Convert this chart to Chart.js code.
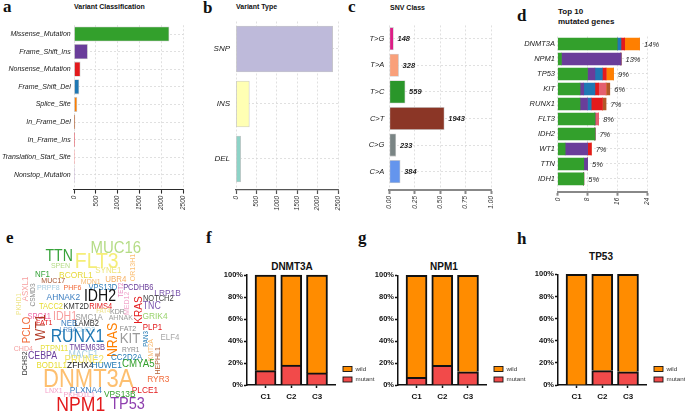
<!DOCTYPE html>
<html>
<head>
<meta charset="utf-8">
<script src="https://cdn.jsdelivr.net/npm/chart.js@4.4.1/dist/chart.umd.min.js"></script>
<style>
  html, body { margin: 0; padding: 0; background: #fff; }
  body { width: 685px; height: 413px; overflow: hidden; position: relative; font-family: "Liberation Sans", Arial, sans-serif; }
  canvas { position: absolute; }
  .lt { position: absolute; font: bold 17px "Liberation Serif", "Times New Roman", serif; line-height: 17px; color: #111; }
  .tt { position: absolute; font-weight: bold; color: #111; white-space: nowrap; }
</style>
</head>
<body>
<div class="lt" style="left:3px;top:-2px">a</div>
<div class="lt" style="left:203px;top:-1px">b</div>
<div class="lt" style="left:348px;top:-2px">c</div>
<div class="lt" style="left:517px;top:7px">d</div>
<div class="lt" style="left:6px;top:229px">e</div>
<div class="lt" style="left:206px;top:229px">f</div>
<div class="lt" style="left:358px;top:229px">g</div>
<div class="lt" style="left:517px;top:230px">h</div>

<div class="tt" style="left:74px;top:3px;font-size:7px;line-height:7px">Variant Classification</div>
<div class="tt" style="left:236px;top:3px;font-size:7px;line-height:7px">Variant Type</div>
<div class="tt" style="left:390px;top:4px;font-size:7px;line-height:7px">SNV Class</div>
<div class="tt" style="left:558px;top:7px;font-size:8px;line-height:10px">Top 10<br>mutated genes</div>
<div class="tt" style="left:242px;top:262px;width:100px;text-align:center;font-size:10px;line-height:10px">DNMT3A</div>
<div class="tt" style="left:394px;top:262px;width:100px;text-align:center;font-size:10px;line-height:10px">NPM1</div>
<div class="tt" style="left:551px;top:252px;width:100px;text-align:center;font-size:10px;line-height:10px">TP53</div>

<canvas id="cA" width="200" height="215" style="left:0;top:0"></canvas>
<canvas id="cB" width="150" height="215" style="left:200px;top:0"></canvas>
<canvas id="cC" width="190" height="215" style="left:345px;top:0"></canvas>
<canvas id="cD" width="180" height="215" style="left:505px;top:0"></canvas>
<canvas id="cE" width="195" height="188" style="left:0;top:225px"></canvas>
<canvas id="cF" width="182" height="160" style="left:196.7px;top:250px"></canvas>
<canvas id="cG" width="182" height="160" style="left:347.7px;top:250px"></canvas>
<canvas id="cH" width="180" height="160" style="left:507.7px;top:250px"></canvas>

<script>
// a: variant classification
const vcLabels = ['Missense_Mutation', 'Frame_Shift_Ins', 'Nonsense_Mutation', 'Frame_Shift_Del', 'Splice_Site',
  'In_Frame_Del', 'In_Frame_Ins', 'Translation_Start_Site', 'Nonstop_Mutation'];
const vcCounts = [2180, 311, 143, 114, 68, 22, 18, 5, 2];

// b: variant type
const vtLabels = ['SNP', 'INS', 'DEL'];
const vtCounts = [2370, 326, 115];

// c: SNV class
const snvLabels = ['T>G', 'T>A', 'T>C', 'C>T', 'C>G', 'C>A'];
const snvCounts = [148, 328, 559, 1943, 233, 384];

// d: top 10 mutated genes (counts per variant class)
const topGenes = ['DNMT3A', 'NPM1', 'TP53', 'KIT', 'RUNX1', 'FLT3', 'IDH2', 'WT1', 'TTN', 'IDH1'];
const topPct = ['14%', '13%', '9%', '6%', '7%', '8%', '7%', '7%', '5%', '5%'];
const geneMissense = [16, 1, 8, 6, 6, 10, 10, 2, 7, 7];
const geneFrameShiftIns = [0, 16, 2, 1, 2, 0, 0, 6, 1, 0];
const geneFrameShiftDel = [1, 0, 2, 3, 1, 0, 0, 0, 0, 0];
const geneNonsense = [1, 0, 1, 1, 3, 0, 0, 1, 0, 0];
const geneInFrameIns = [0, 0, 0, 2, 0, 1, 0, 0, 0, 0];
const geneSplice = [4, 0, 2, 0, 0, 0, 0, 0, 0, 0];
const geneInFrameDel = [0, 0, 0, 1, 1, 0, 0, 0, 0, 0];

// e: word cloud (word, weight)
const cloudWords = ['MUC16', 'TTN', 'FLT3', 'SPEN', 'SYNE1', 'OR13H1', 'NF1', 'BCORL1', 'UBR4', 'ASXL1',
  'MUC17', 'MDN1', 'CSMD3', 'PRPF8', 'PHF6', 'VPS13D', 'TET2', 'PCDHB6', 'LRP1B', 'AHNAK2',
  'IDH2', 'MED12', 'NOTCH2', 'PKHD1', 'TACC2', 'KMT2D', 'RIMS4', 'KRAS', 'TNC', 'FAT4',
  'KDR', 'SPG11', 'IDH1', 'SMC1A', 'AHNAK', 'GRIK4', 'FAT1', 'NEB', 'LAMB2', 'FAT2',
  'PLP1', 'LRBA', 'CHD3', 'PCLO', 'WT1', 'RUNX1', 'NRAS', 'KIT', 'PAN3', 'ELF4',
  'KMT2A', 'HEPHL1', 'CHD4', 'PTPN11', 'TMEM63B', 'RYR1', 'DCHS2', 'CEBPA', 'MACF1', 'CC2D2A',
  'PRUNE2', 'CMYA5', 'BOD1L1', 'ZFHX4', 'HUWE1', 'DNMT3A', 'RYR3', 'LNX1', 'PLXNA4', 'PLCE1',
  'PKHD1L1', 'VPS13B', 'NPM1', 'TP53'];
const cloudFreq = [17, 16, 22, 8, 9, 8, 9, 9.5, 9, 9,
  8, 8, 7.5, 8, 8, 8.5, 7, 8.5, 9.5, 9.5,
  16, 8, 8.5, 7.5, 8.5, 8.5, 8.5, 11.5, 10, 7,
  8, 8.5, 12, 9, 8, 9.5, 8, 9, 8.5, 8,
  9, 7.5, 8, 11, 14, 18, 14, 15, 7, 9,
  7.5, 8, 8, 8.5, 8.5, 7.5, 8, 10, 10, 9,
  11, 11, 9, 9.5, 9.5, 25, 9.5, 8, 9.5, 9.5,
  8, 9.5, 20, 16.5];

// f-h: proportion of mutant per cluster
const clusters = ['C1', 'C2', 'C3'];
const dnmt3aMutant = [13, 18, 11];
const npm1Mutant = [7, 18, 12];
const tp53Mutant = [0, 13, 12];

// ---- styles / layout ----
const vcColors = ['#33a02c', '#6a3d9a', '#e31a1c', '#1f78b4', '#ff7f00', '#b15928', '#e8606a', '#fb9a99', '#cab2d6'];
const vtColors = ['#bebada', '#ffffb3', '#8dd3c7'];
const snvColors = ['#dd1e86', '#f9a07a', '#2a962a', '#8b3626', '#7a8585', '#6495ed'];
const cloudColors = ['#b5dc86', '#37a33a', '#f5ee78', '#b5dc86', '#eee67c', '#fbbf73', '#37a33a', '#e6d93a', '#f6b062', '#f7a0a0',
  '#a4532e', '#f8bb72', '#8a8a8a', '#a6cee3', '#f26b3a', '#2b7bba', '#e98ac0', '#6a3d9a', '#7b55ac', '#3a7dc0',
  '#111111', '#f2a8cc', '#444444', '#efe690', '#e6dc30', '#333333', '#e31a1c', '#e31a1c', '#7b55ac', '#eee38a',
  '#8a8a8a', '#ee6aa7', '#f79c9c', '#9a9a9a', '#a0a0a0', '#9ad36e', '#e31a1c', '#3a7dc0', '#333333', '#8a8a8a',
  '#e31a1c', '#5b8fc9', '#a6cee3', '#f26b3a', '#b23a26', '#1f78b4', '#ff7f00', '#9a9a9a', '#1f78b4', '#a8a8a8',
  '#f8bb72', '#b5653a', '#f4a0a0', '#e6df3e', '#6a3d9a', '#8a8a8a', '#333333', '#6a3d9a', '#a6cee3', '#1f78b4',
  '#f2e462', '#33a02c', '#e6dc30', '#111111', '#1f78b4', '#fdbf6f', '#f26b3a', '#f4a0c8', '#3a7dc0', '#e31a1c',
  '#f4a0c8', '#33a02c', '#e31a1c', '#8e3fae'];
// [x, y, rotation] of each word in the cloud canvas
const cloudLayout = [[115.8, 246.7, 0], [59.2, 255.3, 0], [96.7, 260, 0], [60.5, 265.3, 0], [108.3, 270, 0], [131.7, 267.5, -90], [42.5, 273.3, 0], [75.8, 274.2, 0], [115.8, 278.3, 0], [25, 289, -90],
  [53.3, 280.5, 0], [90.8, 281.2, 0], [32.5, 295, -90], [48.3, 287, 0], [72.5, 287, 0], [102.8, 287.3, 0], [120.8, 290, -90], [138.3, 287.2, 0], [167.5, 292.8, 0], [63.3, 296.7, 0],
  [100, 295.5, 0], [126.3, 303.3, -90], [158.3, 298, 0], [17.8, 304, -90], [51, 306.2, 0], [76.3, 305.8, 0], [100.8, 305.8, 0], [137.5, 310, -90], [151.7, 305, 0], [103.3, 310.8, 0],
  [117.5, 311.2, 0], [39.2, 315.5, 0], [65, 315.5, 0], [89.2, 316.7, 0], [120.8, 317.5, 0], [155, 315.7, 0], [44.2, 322.5, 0], [69.2, 322.5, 0], [86.7, 322.5, 0], [128, 328.3, 0],
  [152.5, 327, 0], [68.3, 329.2, 0], [85.5, 329.2, 0], [26, 330, -90], [40, 327.5, -90], [77.5, 336, 0], [112, 340, -90], [130, 337.2, 0], [145, 339, -90], [170, 336.7, 0],
  [150, 350, -90], [156.7, 360.8, -90], [23.3, 347.8, 0], [54.2, 347.8, 0], [87.2, 347, 0], [130.8, 348.8, 0], [24, 363.3, -90], [42.5, 355.7, 0], [83.3, 354, 0], [126.7, 356.3, 0],
  [84.2, 359.5, 0], [138.3, 362.8, 0], [51.7, 365, 0], [80.3, 365, 0], [106.7, 365, 0], [88.3, 377.5, 0], [158.3, 378.3, 0], [53.8, 389.7, 0], [85.8, 389.3, 0], [145, 389.3, 0],
  [79.2, 394.5, 0], [119.7, 393.7, 0], [80.8, 404.2, 0], [127.5, 403, 0]];

Chart.defaults.font.family = '"Liberation Sans", Arial, sans-serif';
Chart.defaults.color = '#222';
Chart.defaults.animation = false;
Chart.defaults.plugins.legend.display = false;
Chart.defaults.plugins.tooltip.enabled = false;

// horizontal bar panel with a linear index axis so rows sit where we want
function hbar(id, cats, datasets, o) {
  return new Chart(document.getElementById(id), {
    type: 'bar',
    data: { datasets: datasets },
    options: {
      indexAxis: 'y',
      responsive: false,
      layout: { padding: { left: 0, top: o.top, right: o.w - o.right, bottom: 0 } },
      scales: {
        x: {
          type: 'linear', min: 0, max: o.xmax, stacked: !!o.stacked, offset: false,
          afterFit: s => { s.height = o.h - o.bottom; },
          ticks: {
            stepSize: o.step, minRotation: 90, maxRotation: 90, autoSkip: false, padding: 2,
            font: { size: 6.5, style: 'italic' }, color: '#333', callback: o.fmt
          },
          grid: { offset: false, color: '#d9d9d9', lineWidth: 0.8, tickColor: o.axisColor, tickLength: 4, tickWidth: o.axisWidth },
          border: { display: true, color: o.axisColor, width: o.axisWidth, dash: [2, 2] }
        },
        y: {
          type: 'linear', reverse: true, min: -0.5, max: o.ymax, stacked: !!o.stacked, offset: false,
          afterFit: s => { s.width = o.left; },
          afterBuildTicks: s => { s.ticks = cats.map((c, i) => ({ value: i })); },
          ticks: { padding: o.pad, font: { size: o.fs, style: 'italic' }, color: '#222', callback: v => cats[v] },
          grid: { offset: false, color: '#d9d9d9', lineWidth: 0.8, drawTicks: false },
          border: { display: false, dash: [2, 2] }
        }
      }
    },
    plugins: o.plugins || []
  });
}

// a
hbar('cA', vcLabels, [{
  data: vcCounts.map((v, i) => ({ x: v, y: i })),
  backgroundColor: vcColors, borderColor: '#cfcfcf', borderWidth: 0.8, borderSkipped: false, barThickness: 14.5
}], { w: 200, h: 215, left: 74, right: 183, top: 25.2, bottom: 189.6, ymax: 8.84, xmax: 2500, step: 500,
  fmt: v => String(v), axisColor: '#2a2a2a', axisWidth: 1.1, pad: 3.3, fs: 7 });

// b
hbar('cB', vtLabels, [{
  data: vtCounts.map((v, i) => ({ x: v, y: i })),
  backgroundColor: vtColors, borderColor: '#c8c8c8', borderWidth: 0.8, borderSkipped: false, barThickness: 46
}], { w: 150, h: 215, left: 36, right: 138, top: 21.5, bottom: 190, ymax: 2.564, xmax: 2500, step: 500,
  fmt: v => String(v), axisColor: '#555', axisWidth: 1.2, pad: 6, fs: 8 });

// c
const snvTotal = snvCounts.reduce((a, b) => a + b, 0);
const snvFrac = snvCounts.map(v => v / snvTotal);
const snvLabelPlugin = {
  id: 'snvLabels',
  afterDatasetsDraw(chart) {
    const { ctx, scales } = chart;
    ctx.save();
    ctx.font = 'italic bold 7.5px "Liberation Sans", Arial, sans-serif';
    ctx.fillStyle = '#222';
    ctx.textBaseline = 'middle';
    snvFrac.forEach((f, i) => {
      ctx.fillText(String(snvCounts[i]), scales.x.getPixelForValue(f) + 4, scales.y.getPixelForValue(i) + 0.5);
    });
    ctx.restore();
  }
};
hbar('cC', snvLabels, [{
  data: snvFrac.map((v, i) => ({ x: v, y: i })),
  backgroundColor: snvColors, borderColor: '#cfcfcf', borderWidth: 0.8, borderSkipped: false, barThickness: 22.5
}], { w: 190, h: 215, left: 44.3, right: 146, top: 25.4, bottom: 190, ymax: 5.69, xmax: 1, step: 0.25,
  fmt: v => v.toFixed(2), axisColor: '#888', axisWidth: 2, pad: 5, fs: 7.5, plugins: [snvLabelPlugin] });

// d
const geneClasses = [
  [geneMissense, '#33a02c'], [geneFrameShiftIns, '#6a3d9a'], [geneFrameShiftDel, '#1f78b4'],
  [geneNonsense, '#e31a1c'], [geneInFrameIns, '#e5606f'], [geneSplice, '#ff7f00'], [geneInFrameDel, '#b15928']
];
const geneTotals = topGenes.map((g, i) => geneClasses.reduce((s, c) => s + c[0][i], 0));
const pctPlugin = {
  id: 'pctLabels',
  afterDatasetsDraw(chart) {
    const { ctx, scales } = chart;
    ctx.save();
    ctx.font = 'italic 7.5px "Liberation Sans", Arial, sans-serif';
    ctx.fillStyle = '#222';
    ctx.textBaseline = 'middle';
    geneTotals.forEach((t, i) => {
      ctx.fillText(topPct[i], scales.x.getPixelForValue(t) + 4.5, scales.y.getPixelForValue(i) + 0.5);
    });
    ctx.restore();
  }
};
hbar('cD', topGenes, geneClasses.map(c => ({
  data: c[0].map((v, i) => ({ x: v, y: i })),
  backgroundColor: c[1], borderWidth: 0, barThickness: 12
})), { w: 180, h: 215, left: 52.7, right: 142, top: 36.5, bottom: 191.7, ymax: 9.85, xmax: 24, step: 8,
  fmt: v => String(v), axisColor: '#888', axisWidth: 2, pad: 2.7, fs: 7.5, stacked: true, plugins: [pctPlugin] });

// e: word cloud drawn on a scatter chart
const cloudPlugin = {
  id: 'cloudWords',
  afterDatasetsDraw(chart) {
    const { ctx } = chart;
    const pts = chart.getDatasetMeta(0).data;
    ctx.save();
    ctx.textAlign = 'center';
    ctx.textBaseline = 'alphabetic';
    pts.forEach((p, i) => {
      const f = cloudFreq[i];
      ctx.save();
      ctx.translate(p.x, p.y);
      ctx.rotate(cloudLayout[i][2] * Math.PI / 180);
      ctx.scale(0.88, 1);
      ctx.font = f + 'px "Liberation Sans", Arial, sans-serif';
      ctx.fillStyle = cloudColors[i];
      ctx.fillText(cloudWords[i], 0, f * 0.36);
      ctx.restore();
    });
    ctx.restore();
  }
};
new Chart(document.getElementById('cE'), {
  type: 'scatter',
  data: { datasets: [{ data: cloudLayout.map(p => ({ x: p[0], y: p[1] })), pointRadius: 0 }] },
  options: {
    responsive: false,
    layout: { padding: 0 },
    scales: {
      x: { type: 'linear', min: 0, max: 195, display: false },
      y: { type: 'linear', min: 225, max: 413, reverse: true, display: false }
    }
  },
  plugins: [cloudPlugin]
});

// f-h
const pctLegend = {
  id: 'pctLegend',
  afterDraw(chart) {
    const { ctx, chartArea } = chart;
    const items = chart.data.datasets.slice().reverse();
    ctx.save();
    ctx.font = '6.2px "Liberation Sans", Arial, sans-serif';
    ctx.textBaseline = 'middle';
    items.forEach((d, k) => {
      const y = chartArea.bottom - 16 + k * 10.5;
      const x = chartArea.right + 8;
      ctx.fillStyle = d.backgroundColor;
      ctx.fillRect(x, y - 2.5, 9, 5);
      ctx.strokeStyle = '#111';
      ctx.lineWidth = 0.9;
      ctx.strokeRect(x, y - 2.5, 9, 5);
      ctx.fillStyle = '#333';
      ctx.fillText(d.label, x + 12.5, y);
    });
    ctx.restore();
  }
};
function propChart(id, mutant, top, w) {
  const wild = mutant.map(v => 100 - v);
  const barStyle = { barThickness: 21, borderColor: '#111', borderWidth: 2, clip: false };
  return new Chart(document.getElementById(id), {
    type: 'bar',
    data: {
      datasets: [
        Object.assign({ label: 'mutant', data: mutant.map((v, i) => ({ x: i, y: v })), backgroundColor: '#f24a4a' }, barStyle),
        Object.assign({ label: 'wild', data: wild.map((v, i) => ({ x: i, y: v })), backgroundColor: '#ff8c00' }, barStyle)
      ]
    },
    options: {
      responsive: false,
      layout: { padding: { left: 0, top: top, right: w - 50 - 88, bottom: 0 } },
      scales: {
        x: {
          type: 'linear', min: -0.72, max: 2.7, stacked: true, offset: false,
          afterFit: s => { s.height = 160 - 135; },
          afterBuildTicks: s => { s.ticks = clusters.map((c, i) => ({ value: i })); },
          ticks: { callback: v => clusters[v], font: { size: 8, weight: 'bold' }, color: '#111', padding: 4, autoSkip: false, maxRotation: 0 },
          grid: { offset: false, drawOnChartArea: false, tickLength: 3, tickColor: '#111', tickWidth: 1.5 },
          border: { color: '#111', width: 1.5 }
        },
        y: {
          min: 0, max: 100, stacked: true,
          afterFit: s => { s.width = 50; },
          ticks: { stepSize: 20, callback: v => v + '%', font: { size: 7.5, weight: 'bold' }, color: '#111', padding: 1 },
          grid: { drawOnChartArea: false, tickLength: 3, tickColor: '#111', tickWidth: 1.5 },
          border: { color: '#111', width: 1.5 }
        }
      }
    },
    plugins: [pctLegend]
  });
}
propChart('cF', dnmt3aMutant, 25, 182);
propChart('cG', npm1Mutant, 25.3, 182);
propChart('cH', tp53Mutant, 24.3, 180);
</script>
</body>
</html>
